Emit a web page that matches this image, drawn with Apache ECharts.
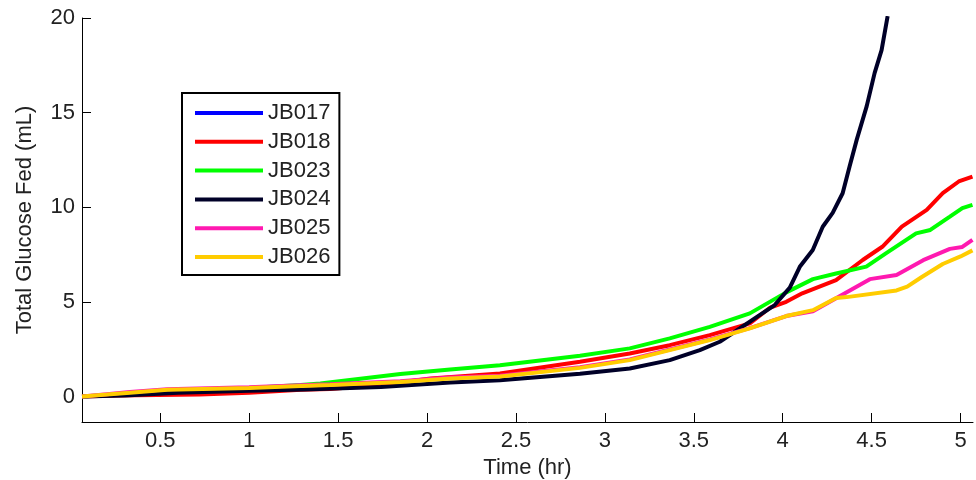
<!DOCTYPE html>
<html>
<head>
<meta charset="utf-8">
<title>Total Glucose Fed</title>
<script src="https://cdn.jsdelivr.net/npm/echarts@6/dist/echarts.min.js"></script>
<style>
  html, body { margin: 0; padding: 0; background: #fff; }
  #chart { width: 976px; height: 480px; }
</style>
</head>
<body>
<div id="chart"></div>
<script>
// Run names and colours
const runNames = ['JB017', 'JB018', 'JB023', 'JB024', 'JB025', 'JB026'];
const runColors = ['#0000ff', '#ff0000', '#00ff00', '#000028', '#ff19b0', '#ffcc00'];

// Cumulative glucose fed, [time (hr), volume (mL)]
const jb017 = [];
const jb018 = [[0.06,0],[0.25,0.05],[0.72,0.1],[1.0,0.2],[1.01,0.3],[1.29,0.35],[1.455,0.4],[1.74,0.6],[2.02,0.95],[2.41,1.21],[2.86,1.83],[3.14,2.27],[3.365,2.71],[3.59,3.24],[3.815,3.86],[3.93,4.7],[4.02,5.0],[4.11,5.45],[4.30,6.15],[4.45,7.21],[4.56,7.91],[4.67,8.97],[4.81,9.86],[4.9,10.74],[4.99,11.36],[5.067,11.62]];
const jb023 = [[0.06,0],[0.2,0.08],[0.33,0.15],[0.54,0.25],[1.0,0.45],[1.29,0.6],[1.4,0.68],[1.85,1.19],[2.13,1.43],[2.41,1.65],[2.86,2.15],[3.14,2.54],[3.365,3.07],[3.59,3.68],[3.815,4.39],[4.02,5.5],[4.17,6.2],[4.30,6.5],[4.47,6.86],[4.58,7.56],[4.75,8.62],[4.83,8.8],[4.94,9.5],[5.01,9.95],[5.067,10.12]];
const jb024 = [[0.06,0],[0.3,0.05],[0.6,0.2],[1.0,0.3],[1.31,0.37],[1.74,0.5],[2.13,0.74],[2.41,0.86],[2.86,1.2],[3.14,1.48],[3.365,1.92],[3.534,2.45],[3.646,2.89],[3.758,3.59],[3.87,4.3],[3.955,4.83],[4.04,5.75],[4.096,6.85],[4.169,7.74],[4.225,8.97],[4.281,9.7],[4.337,10.74],[4.376,12.15],[4.416,13.56],[4.472,15.33],[4.517,17.1],[4.556,18.3],[4.59,20.1]];
const jb025 = [[0.06,0],[0.2,0.12],[0.33,0.23],[0.54,0.38],[1.0,0.48],[1.29,0.59],[1.455,0.64],[1.85,0.81],[2.13,1.0],[2.41,1.1],[2.86,1.55],[3.14,1.96],[3.365,2.48],[3.59,3.01],[3.815,3.61],[4.02,4.25],[4.17,4.5],[4.32,5.3],[4.49,6.2],[4.64,6.42],[4.79,7.2],[4.94,7.8],[5.01,7.9],[5.067,8.27]];
const jb026 = [[0.06,0],[0.2,0.1],[0.33,0.2],[0.54,0.35],[1.0,0.45],[1.29,0.55],[1.455,0.6],[1.85,0.77],[2.13,0.95],[2.41,1.05],[2.86,1.51],[3.14,1.92],[3.365,2.45],[3.59,2.98],[3.815,3.6],[4.02,4.25],[4.17,4.56],[4.30,5.2],[4.36,5.25],[4.64,5.6],[4.70,5.8],[4.78,6.3],[4.9,7.0],[5.0,7.4],[5.067,7.72]];
const runData = [jb017, jb018, jb023, jb024, jb025, jb026];

// Axis ticks
const timeTicks = [0.5, 1, 1.5, 2, 2.5, 3, 3.5, 4, 4.5, 5];
const volumeTicks = [0, 5, 10, 15, 20];

const textColor = '#222';
const fontFamily = '"Liberation Sans", Arial, Helvetica, sans-serif';

const chart = echarts.init(document.getElementById('chart'), null, { renderer: 'canvas' });

chart.setOption({
  animation: false,
  backgroundColor: '#fff',
  grid: { left: 82, top: 18, right: 3, bottom: 58, containLabel: false, outerBoundsMode: 'none' },
  textStyle: { fontFamily: fontFamily, color: textColor },
  legend: {
    orient: 'vertical',
    left: 182,
    top: 93,
    padding: [9, 9, 7, 13],
    borderColor: '#000',
    borderWidth: 2,
    backgroundColor: '#fff',
    icon: 'rect',
    itemWidth: 68,
    itemHeight: 4,
    itemGap: 6.8,
    textStyle: { fontSize: 22, lineHeight: 22, color: textColor, fontFamily: fontFamily },
    data: runNames
  },
  xAxis: {
    type: 'value',
    min: 0.06,
    max: 5.07,
    name: 'Time (hr)',
    nameLocation: 'middle',
    nameGap: 34,
    nameTextStyle: { fontSize: 22, color: textColor, fontFamily: fontFamily },
    axisLine: { show: true, onZero: false, lineStyle: { color: '#000', width: 1 } },
    axisTick: { show: true, inside: true, length: 9, customValues: timeTicks, lineStyle: { color: '#000', width: 1 } },
    axisLabel: { customValues: timeTicks, fontSize: 22, color: textColor, margin: 8, fontFamily: fontFamily },
    splitLine: { show: false }
  },
  yAxis: {
    type: 'value',
    min: -1.35,
    max: 20,
    name: 'Total Glucose Fed (mL)',
    nameLocation: 'middle',
    nameGap: 46,
    nameRotate: 90,
    nameTextStyle: { fontSize: 22, color: textColor, fontFamily: fontFamily },
    axisLine: { show: true, onZero: false, lineStyle: { color: '#000', width: 1 } },
    axisTick: { show: true, inside: true, length: 9, customValues: volumeTicks, lineStyle: { color: '#000', width: 1 } },
    axisLabel: { customValues: volumeTicks, fontSize: 22, color: textColor, margin: 7, fontFamily: fontFamily },
    splitLine: { show: false }
  },
  series: runNames.map((name, i) => ({
    name: name,
    type: 'line',
    data: runData[i],
    showSymbol: false,
    symbol: 'none',
    clip: true,
    color: runColors[i],
    lineStyle: { color: runColors[i], width: 4 }
  }))
});
</script>
</body>
</html>
